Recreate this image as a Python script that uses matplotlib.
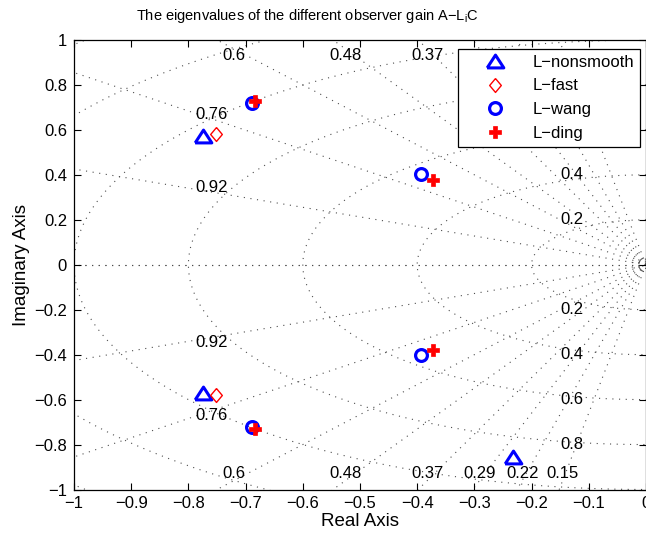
import numpy as np
import matplotlib
matplotlib.use("Agg")
import matplotlib.pyplot as plt
from matplotlib.ticker import FixedLocator, FuncFormatter

plt.rcParams['font.family'] = ['Liberation Sans', 'DejaVu Sans']
plt.rcParams['mathtext.default'] = 'regular'

# ---- data (eigenvalues) ----
nonsmooth_re = [-0.775, -0.775, -0.233, -0.233]
nonsmooth_im = [0.572, -0.572, 0.854, -0.854]
fast_re = [-0.751, -0.751]
fast_im = [0.581, -0.581]
wang_re = [-0.688, -0.688, -0.394, -0.394]
wang_im = [0.72, -0.72, 0.403, -0.403]
ding_re = [-0.684, -0.684, -0.373, -0.373]
ding_im = [0.73, -0.73, 0.378, -0.378]

series_names = ['L\u2212nonsmooth', 'L\u2212fast', 'L\u2212wang', 'L\u2212ding']

# grid values (damping ratios and natural frequencies)
zetas = [0.15, 0.22, 0.29, 0.37, 0.48, 0.6, 0.76, 0.92, 1.0]
zeta_labels = [0.15, 0.22, 0.29, 0.37, 0.48, 0.6, 0.76, 0.92]
wns = [0.2, 0.4, 0.6, 0.8, 1.0, 1.2, 1.4]
wn_labels = [0.2, 0.4, 0.6, 0.8]
wn_small = [0.008, 0.016, 0.025]

xticks = [-1, -0.9, -0.8, -0.7, -0.6, -0.5, -0.4, -0.3, -0.2, -0.1, 0]
yticks = [-1, -0.8, -0.6, -0.4, -0.2, 0, 0.2, 0.4, 0.6, 0.8, 1]

fig = plt.figure(figsize=(6.46, 5.38), dpi=100)
ax = fig.add_axes([74/646, 48.5/538, 572/646, 449.5/538])
ax.set_xlim(-1, 0)
ax.set_ylim(-1, 1)

gstyle = dict(color='0.3', linestyle=(0, (1, 5)), linewidth=0.8, zorder=1)

# damping rays
for z in zetas:
    th = np.arccos(z)
    r = np.array([0, 3.0])
    ax.plot(-r * np.cos(th), r * np.sin(th), **gstyle)
    ax.plot(-r * np.cos(th), -r * np.sin(th), **gstyle)

# natural frequency circles
phi = np.linspace(np.pi / 2, 3 * np.pi / 2, 400)
for w in wns + wn_small:
    ax.plot(w * np.cos(phi), w * np.sin(phi), **gstyle)

fs = 12
grid_texts = []
# damping labels
xl, yl, ya = 0.76, 0.931, 0.96
for z in zeta_labels:
    th = np.arccos(z)
    c, s = np.cos(th), np.sin(th)
    if xl / c * s < yl:
        px, py = -xl, xl / c * s + 0.02
    else:
        px, py = -ya * c / s, yl
    for sg in (1, -1):
        grid_texts.append(ax.text(px, sg * py, f'{z:g}', fontsize=fs,
                                  ha='center', va='center', zorder=3))

# natural frequency labels
for w in wn_labels:
    for sg in (1, -1):
        grid_texts.append(ax.text(-0.129, sg * w, f'{w:g}', fontsize=fs,
                                  ha='center', va='center', zorder=3))

# markers
tri = [(-0.65, -0.5), (0.65, -0.5), (0, 0.5), (-0.65, -0.5)]
dia = [(0, 0.5), (0.42, 0), (0, -0.5), (-0.42, 0), (0, 0.5)]
ax.plot(nonsmooth_re, nonsmooth_im, linestyle='none', marker=tri, ms=12, mfc='none',
        mec='#0000ff', mew=2.2, label=series_names[0], zorder=4)
ax.plot(fast_re, fast_im, linestyle='none', marker=dia, ms=10, mfc='none',
        mec='#ff0000', mew=1.0, label=series_names[1], zorder=4)
ax.plot(wang_re, wang_im, linestyle='none', marker='o', ms=8.5, mfc='none',
        mec='#0000ff', mew=2.3, label=series_names[2], zorder=4)
ax.plot(ding_re, ding_im, linestyle='none', marker='P', ms=9, mfc='#ff0000',
        mec='#ff0000', mew=0.5, label=series_names[3], zorder=4)

ax.xaxis.set_major_locator(FixedLocator(xticks))
ax.yaxis.set_major_locator(FixedLocator(yticks))
fmt = FuncFormatter(lambda v, p: f'{v:g}'.replace('-', '\u2212'))
ax.xaxis.set_major_formatter(fmt)
ax.yaxis.set_major_formatter(fmt)
ax.tick_params(direction='in', length=5, width=0.8, top=True, right=True,
               labelsize=fs, pad=5)
for sp in ax.spines.values():
    sp.set_linewidth(0.9)

ax.set_xlabel('Real Axis', fontsize=13.5, labelpad=1)
ax.set_ylabel('Imaginary Axis', fontsize=13.5, labelpad=3)
fig.text(307 / 646, 1 - 20 / 538,
         'The eigenvalues of the different observer gain A\u2212L$_i$C',
         fontsize=10.5, ha='center', va='baseline')

leg = ax.legend(loc='upper right', bbox_to_anchor=(0.9895, 0.98), borderaxespad=0,
                fontsize=fs, frameon=True, fancybox=False, edgecolor='black',
                framealpha=1, borderpad=0.35, handlelength=3.8, handletextpad=0.35,
                labelspacing=0.52, numpoints=1)
leg.get_frame().set_linewidth(0.9)
leg.set_zorder(10)

# labels that fall under the (opaque) legend are hidden, as in the original
fig.canvas.draw()
r = fig.canvas.get_renderer()
lb = leg.get_window_extent(r)
for t in grid_texts:
    if t.get_window_extent(r).overlaps(lb):
        t.set_visible(False)

fig.savefig('out.png', dpi=100)
